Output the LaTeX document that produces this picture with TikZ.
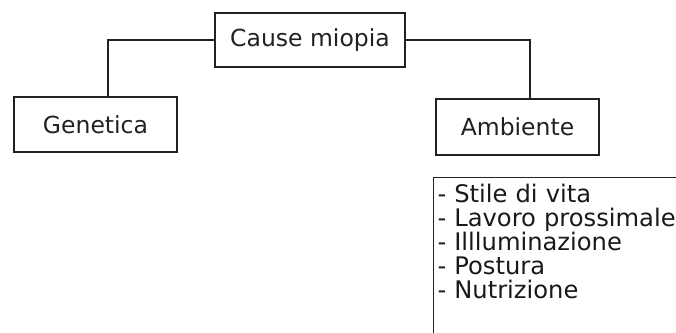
\documentclass[tikz,border=0pt]{standalone}
\usepackage{fontspec}
\setmainfont{DejaVu Sans}
\usepackage{tikz}
\usetikzlibrary{positioning}
\definecolor{ink}{rgb}{0.13,0.13,0.13}

\begin{document}
\begin{tikzpicture}[
            x = 1pt, y = -1pt, % pixel-like units, y pointing down
            font = \fontsize{23.5}{24}\selectfont,
            text = ink,
            line width = 1pt,
            semithick
        ]

        \tikzset{
            box/.style = {
                draw = ink,
                line width = 1.1pt,
                inner sep = 0pt
            }
        }

        \clip (0,0) rectangle (676,332);

	% top level
        \node[box, minimum width=190pt, minimum height=54pt] (cause) at (310,40) {Cause miopia};

        % causes
        \node[box, minimum width=163pt, minimum height=55pt] (genetica) at (95.5,124.5) {Genetica};
        \node[box, minimum width=163pt, minimum height=56pt] (ambiente) at (517.5,127) {Ambiente};

        \draw[draw=ink, line width=1.1pt] (cause.west) -| ([xshift=12.5pt]genetica.north);
        \draw[draw=ink, line width=1.1pt] (cause.east) -| ([xshift=12.5pt]ambiente.north);

        % list of factors
        \node[box, anchor=north west, align=left, text width=262pt,
              font=\fontsize{24.2}{24}\selectfont, text=black!90,
              inner xsep=4pt, inner ysep=7pt, text depth=140pt] (fattori) at (433,177)
            {- Stile di vita\\
             - Lavoro prossimale\\
             - Illluminazione\\
             - Postura\\
             - Nutrizione};

  \end{tikzpicture}
\end{document}
